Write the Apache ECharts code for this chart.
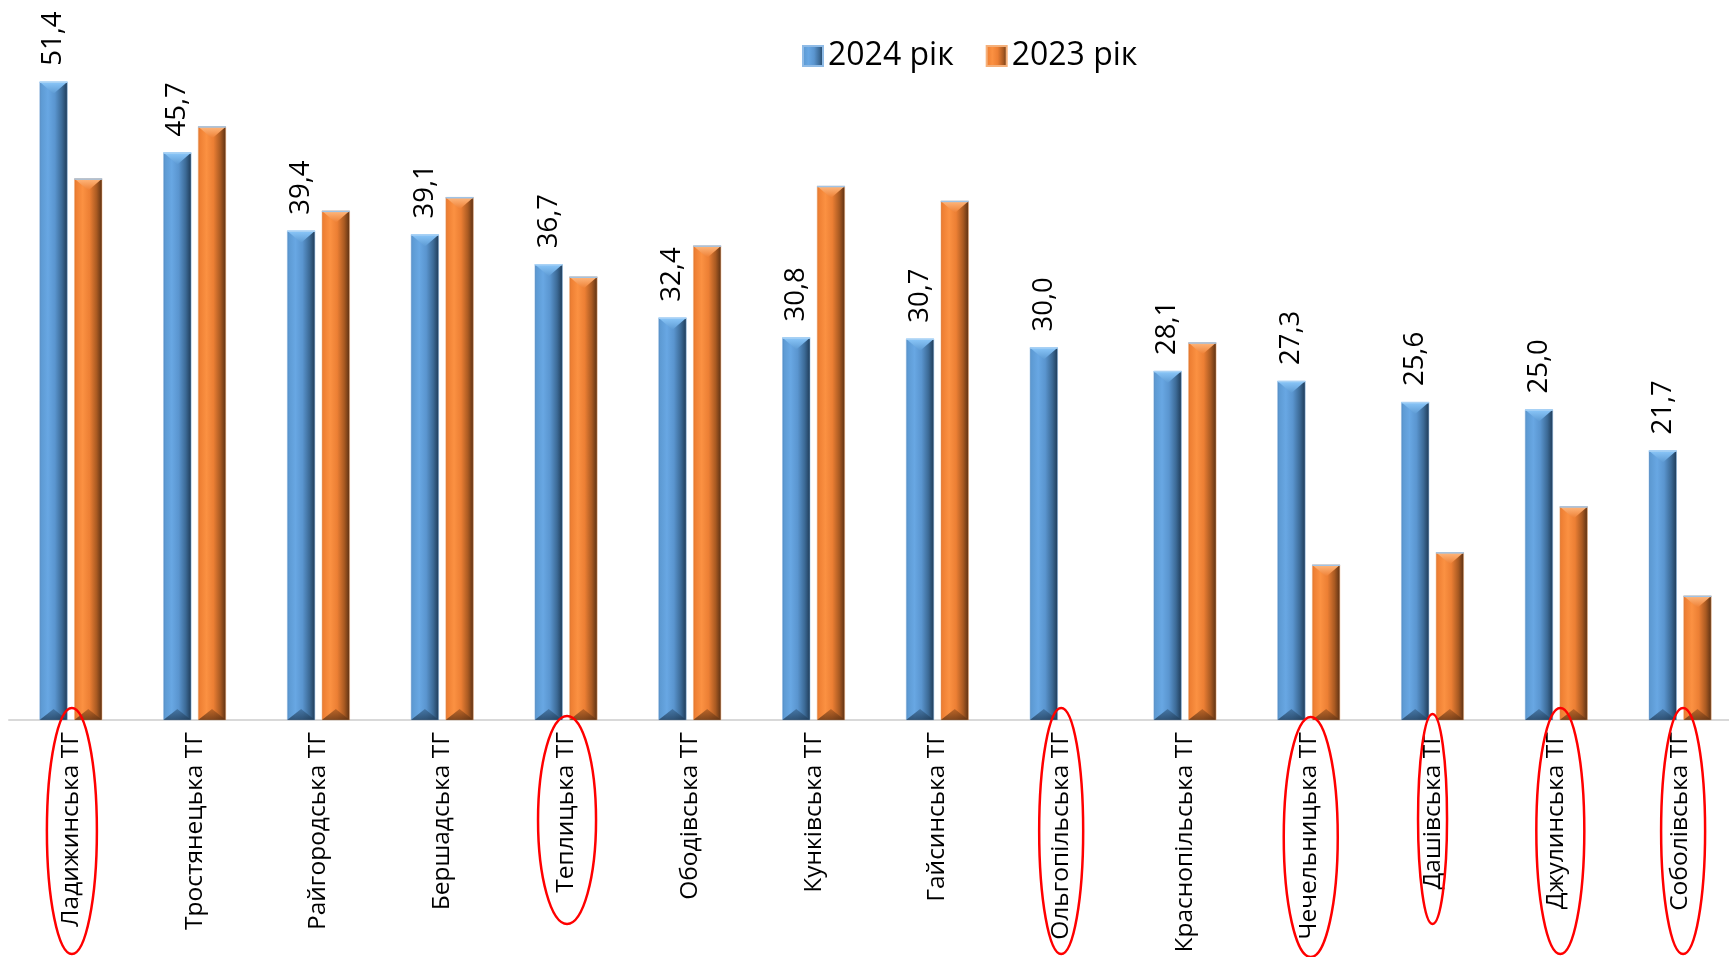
<!DOCTYPE html>
<html><head><meta charset="utf-8">
<script src="https://cdn.jsdelivr.net/npm/echarts@6/dist/echarts.min.js"></script>
<style>html,body{margin:0;padding:0;background:#fff}#c{width:1729px;height:957px}</style>
</head><body><div id="c"></div>
<script>
const categories = ['Ладижинська ТГ','Тростянецька ТГ','Райгородська ТГ','Бершадська ТГ','Теплицька ТГ','Ободівська ТГ','Кунківська ТГ','Гайсинська ТГ','Ольгопільська ТГ','Краснопільська ТГ','Чечельницька ТГ','Дашівська ТГ','Джулинська ТГ','Соболівська ТГ'];
const values2024 = [51.4,45.7,39.4,39.1,36.7,32.4,30.8,30.7,30.0,28.1,27.3,25.6,25.0,21.7];
const values2023 = [43.6,47.8,41.0,42.1,35.7,38.2,43.0,41.8,null,30.4,12.5,13.5,17.2,10.0];
const seriesNames = ['2024 рік','2023 рік'];
const circled = ['Ладижинська ТГ','Теплицька ТГ','Ольгопільська ТГ','Чечельницька ТГ','Дашівська ТГ','Джулинська ТГ','Соболівська ТГ'];
// ellipse geometry (style): [rx, ry, dy from baseline, dx]
const ellipseShapes = [[25,123,111,1],[29,104,100,1],[22,123,111,0],[27,120,117,2],[14.5,105,99,0],[24,123,111,4],[22,123,111,3]];

const BAR_W = 28, GAP = 6.7;
const FONT = "'Open Sans', 'DejaVu Sans', sans-serif";
const fmt = v => v == null ? '' : v.toFixed(1).replace('.', ',');

function grad(stops){
  return new echarts.graphic.LinearGradient(0,0,1,0, stops.map(s=>({offset:s[0], color:s[1]})));
}
const blueFill = grad([[0,'#4b80b6'],[0.06,'#5d9ad3'],[0.3,'#68a7e3'],[0.55,'#5a95cf'],[0.8,'#3c6a96'],[1,'#1e3a56']]);
const orangeFill = grad([[0,'#d46c27'],[0.06,'#ee7f33'],[0.3,'#fb9142'],[0.55,'#ec7f34'],[0.8,'#a95a22'],[1,'#5a3013']]);

function bevelSeries(vals, side, topCol, botCol){
  return {
    type:'custom', silent:true, z:5,
    data: vals.map((v,i)=>[i, v]),
    renderItem(params, api){
      const v = api.value(1);
      if (v == null || isNaN(v)) return null;
      const top = api.coord([api.value(0), v]);
      const base = api.coord([api.value(0), 0]);
      const cx = top[0] + side*(BAR_W+GAP)/2;
      const x0 = cx - BAR_W/2, x1 = cx + BAR_W/2, yt = top[1], yb = base[1];
      const h = 12;
      return {type:'group', children:[
        {type:'polygon', shape:{points:[[x0,yt],[x1,yt],[cx,yt+h]]},
         style:{fill:new echarts.graphic.LinearGradient(0,0,0,1,[{offset:0,color:topCol[0]},{offset:1,color:topCol[1]}])}},
        {type:'line', shape:{x1:x0,y1:yt+0.5,x2:x1,y2:yt+0.5}, style:{stroke:topCol[2], lineWidth:1.5}},
        {type:'polygon', shape:{points:[[x0,yb],[x1,yb],[cx,yb-11]]},
         style:{fill:new echarts.graphic.LinearGradient(0,1,0,0,[{offset:0,color:botCol[0]},{offset:1,color:botCol[1]}]), opacity:0.75}}
      ]};
    }
  };
}

const chart = echarts.init(document.getElementById('c'), null, {renderer:'canvas'});
chart.setOption({
  backgroundColor:'#ffffff',
  animation:false,
  legend:{
    data: seriesNames, left: 797, top: 35, icon:'rect', itemWidth:20, itemHeight:20, itemGap:32,
    textStyle:{fontSize:32, fontFamily:FONT, color:'#000'}
  },
  grid:{left:9, width:1733, top:37, bottom:237, containLabel:false, outerBoundsMode:'none'},
  xAxis:{
    type:'category', data:categories,
    axisLine:{lineStyle:{color:'#d9d9d9', width:2}},
    axisTick:{show:false},
    axisLabel:{interval:0, rotate:90, fontSize:24.5, fontFamily:FONT, color:'#000', margin:12}
  },
  yAxis:{type:'value', min:0, max:55, show:false, splitLine:{show:false}},
  series:[
    {name:seriesNames[0], type:'bar', data:values2024, barWidth:BAR_W, barGap:(GAP/BAR_W*100)+'%',
     itemStyle:{color:blueFill, borderColor:'#8fbbe6', borderWidth:0.5},
     label:{show:true, position:'top', rotate:90, align:'left', verticalAlign:'middle', distance:16,
            fontSize:27.5, fontFamily:FONT, color:'#000', formatter:p=>fmt(p.value)}},
    {name:seriesNames[1], type:'bar', data:values2023, barWidth:BAR_W,
     itemStyle:{color:orangeFill, borderColor:'#f5b07a', borderWidth:0.5}},
    bevelSeries(values2024, -1, ['#8cc8fa','#5d9ad3','#a9d2f5'], ['#1f3a55','#3c6a96']),
    bevelSeries(values2023, 1, ['#ffb980','#ee7f33','#9fc3e6'], ['#5a3013','#a95a22']),
    {type:'custom', silent:true, z:10,
     data: circled.map((c,k)=>[categories.indexOf(c), 0, k]),
     renderItem(params, api){
       const p = api.coord([api.value(0), 0]);
       const e = ellipseShapes[api.value(2)];
       return {type:'ellipse', shape:{cx:p[0]+e[3], cy:p[1]+e[2], rx:e[0], ry:e[1]},
               style:{fill:'none', stroke:'#ff0000', lineWidth:2.5}};
     }}
  ]
});
</script></body></html>
